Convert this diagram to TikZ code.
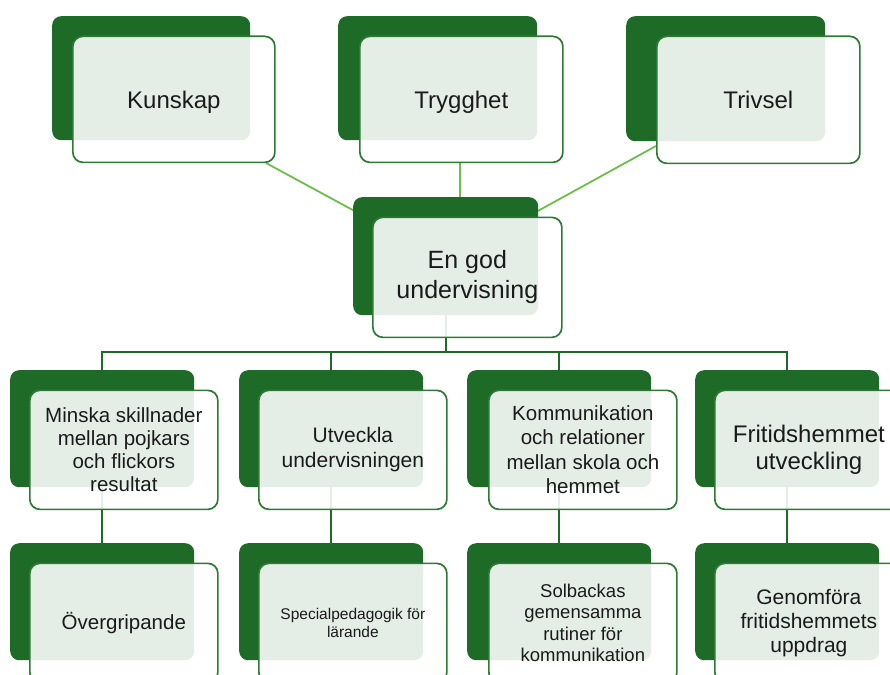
\documentclass[tikz,border=0pt]{standalone}
\usepackage{fontspec}
\setmainfont{Liberation Sans}
\usetikzlibrary{backgrounds}
\definecolor{dk}{HTML}{1D6B27}
\definecolor{bd}{HTML}{2C7A33}
\definecolor{lg}{HTML}{6CBE4B}
\definecolor{tx}{HTML}{1A1A1A}
\tikzset{
  back/.style={draw=none, fill=dk, rounded corners=9pt, anchor=north west, inner sep=0pt},
  front/.style={draw=bd, line width=1.7pt, fill=white, fill opacity=0.885, text opacity=1,
    text=tx, rounded corners=10pt, anchor=north west, inner sep=0pt, align=center},
  link/.style={draw=lg, line width=1.8pt},
  tree/.style={draw=dk, line width=1.9pt},
}
% name, x, y, w, h, front x offset, font size, line pitch, text
\newcommand\elem[9]{%
  \node[back, minimum width=#4pt, minimum height=#5pt] (#1b) at (#2,#3) {};
  \node[front, minimum width=#4pt+4pt, minimum height=#5pt+2pt,
        font=\fontsize{#7}{#8}\selectfont] (#1) at ({#2+#6},{#3+19.5}) {#9};}
\newcommand\nodepth[1]{\raisebox{0pt}[\height][0pt]{#1}}
\begin{document}
\begin{tikzpicture}[x=1pt,y=-1pt]
\useasboundingbox (0,0) rectangle (890,674);
\clip (0,0) rectangle (890,674);

\elem{kun}{52}{16}{198}{124}{20}{24}{28}{\nodepth{Kunskap}}
\elem{try}{338}{16}{199}{124}{21}{24}{28}{\nodepth{Trygghet}}
\elem{tri}{626}{16}{199}{125}{30}{24}{28}{Trivsel}

\elem{cen}{353}{197}{185}{118}{19}{25}{30}{En god\\undervisning}

\elem{la}{10}{370}{184}{117}{19}{20.5}{23}{Minska skillnader\\mellan pojkars\\och flickors\\resultat}
\elem{lb}{239}{370}{184}{117}{19}{21}{25}{Utveckla\\undervisningen}
\elem{lc}{467}{370}{184}{117}{21}{20.5}{24.5}{Kommunikation\\och relationer\\mellan skola och\\hemmet}
\elem{ld}{695}{370}{184}{117}{19}{24}{27}{Fritidshemmet\\utveckling}

\elem{ma}{10}{543}{184}{117}{19}{20.5}{24}{Övergripande}
\elem{mb}{239}{543}{184}{117}{19}{15.5}{18}{Specialpedagogik för\\lärande}
\elem{mc}{467}{543}{184}{117}{21}{18.5}{21.5}{Solbackas\\gemensamma\\rutiner för\\kommunikation}
\elem{md}{695}{543}{184}{117}{19}{21}{24}{Genomföra\\fritidshemmets\\uppdrag}

\coordinate (kA) at (266,163);
\coordinate (kH) at (445,260);
\coordinate (tA) at (460,163);
\coordinate (tH) at (460,230);
\coordinate (vA) at (656,146);
\coordinate (vH) at (445,262);
\coordinate (bar) at (445,352);

\begin{pgfonlayer}{background}
  \draw[link] (kA) -- (kH);
  \draw[link] (tA) -- (tH);
  \draw[link] (vA) -- (vH);
  \draw[tree] (cenb.center) -- (cenb.center |- bar);
  \draw[tree] (lab.north) -- (lab.north |- bar) -- (ldb.north |- bar) -- (ldb.north);
  \draw[tree] (lbb.north |- bar) -- (lbb.north);
  \draw[tree] (lcb.north |- bar) -- (lcb.north);
  \draw[tree] (lab.center) -- (mab.north);
  \draw[tree] (lbb.center) -- (mbb.north);
  \draw[tree] (lcb.center) -- (mcb.north);
  \draw[tree] (ldb.center) -- (mdb.north);
\end{pgfonlayer}
\end{tikzpicture}
\end{document}
